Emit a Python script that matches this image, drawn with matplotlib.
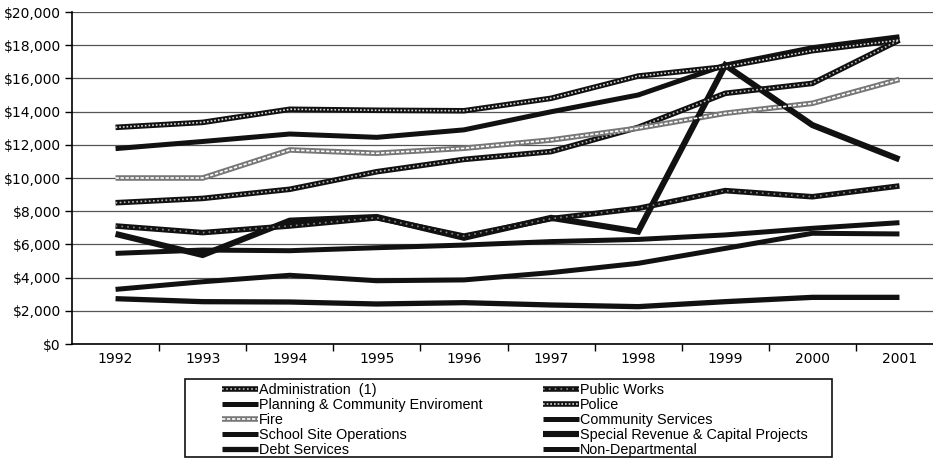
import matplotlib
matplotlib.use("Agg")
import matplotlib.pyplot as plt
import numpy as np
from matplotlib.ticker import FuncFormatter, MultipleLocator, FixedLocator
from matplotlib.legend_handler import HandlerTuple
from matplotlib.patches import Rectangle

plt.rcParams['font.family'] = ['Liberation Sans', 'DejaVu Sans']

years = ["1992", "1993", "1994", "1995", "1996", "1997", "1998", "1999", "2000", "2001"]

administration = [8510, 8770, 9320, 10380, 11120, 11590, 13050, 15100, 15700, 18310]
public_works = [7110, 6710, 7110, 7600, 6500, 7550, 8170, 9240, 8870, 9520]
planning = [11770, 12200, 12650, 12450, 12900, 13990, 15000, 16800, 17850, 18510]
police = [13050, 13350, 14140, 14080, 14050, 14800, 16140, 16700, 17670, 18310]
fire = [10000, 10000, 11690, 11490, 11790, 12290, 13000, 13900, 14500, 15940]
community_services = [5460, 5660, 5620, 5800, 5960, 6170, 6300, 6570, 6970, 7310]
school_site = [3290, 3750, 4140, 3810, 3860, 4300, 4860, 5760, 6670, 6630]
special_revenue = [6630, 5360, 7430, 7650, 6400, 7600, 6770, 16800, 13190, 11120]
debt_services = [2730, 2550, 2530, 2410, 2490, 2350, 2250, 2550, 2810, 2810]
non_departmental = [np.nan] * 10

labels = ["Administration  (1)", "Public Works",
          "Planning & Community Enviroment", "Police",
          "Fire", "Community Services",
          "School Site Operations", "Special Revenue & Capital Projects",
          "Debt Services", "Non-Departmental"]
series = [administration, public_works, planning, police, fire,
          community_services, school_site, special_revenue,
          debt_services, non_departmental]
# pattern: (outer colour, outer width, inner colour or None, inner dash)
styles = [
    ("#111111", 4.0, "#bbbbbb", (0, (1, 1.5))),
    ("#111111", 4.0, "#888888", (0, (1, 2.5))),
    ("#111111", 3.6, None, None),
    ("#111111", 4.0, "#dddddd", (0, (1, 1.2))),
    ("#777777", 4.0, "#ffffff", (0, (2, 1))),
    ("#111111", 3.6, None, None),
    ("#111111", 3.6, None, None),
    ("#111111", 4.4, None, None),
    ("#111111", 3.8, None, None),
    ("#111111", 3.6, None, None),
]

W, H = 933, 459
fig = plt.figure(figsize=(W / 100, H / 100), dpi=100)
ax = fig.add_axes([72 / W, 1 - 344 / H, (943 - 72) / W, (344 - 12) / H])

x = np.arange(len(years))
handles = []
for vals, (oc, ow, ic, idash), lab in zip(series, styles, labels):
    l1, = ax.plot(x, vals, color=oc, lw=ow, solid_capstyle='butt',
                  solid_joinstyle='miter', zorder=3)
    if ic is not None:
        l2, = ax.plot(x, vals, color=ic, lw=ow * 0.3, linestyle=idash,
                      zorder=4)
        handles.append((l1, l2))
    else:
        handles.append(l1)

ax.set_xlim(-0.5, 9.5)
ax.set_ylim(0, 20000)
ax.yaxis.set_major_locator(MultipleLocator(2000))
ax.yaxis.set_major_formatter(FuncFormatter(lambda v, p: "${:,.0f}".format(v)))
ax.set_xticks(x)
ax.set_xticklabels(years)
ax.xaxis.set_minor_locator(FixedLocator(np.arange(0.5, 9.5, 1.0)))
ax.tick_params(axis='x', which='major', length=0, pad=6)
ax.tick_params(axis='x', which='minor', length=5, width=1, direction='out')
ax.tick_params(axis='y', which='major', length=5, width=1, pad=3)
for t in ax.get_xticklabels() + ax.get_yticklabels():
    t.set_fontfamily(['DejaVu Sans'])
    t.set_fontsize(10)

ax.grid(axis='y', color='#555555', lw=0.9, zorder=1)
for s in ['top', 'right']:
    ax.spines[s].set_visible(False)
ax.spines['left'].set_linewidth(1.2)
ax.spines['bottom'].set_linewidth(1.2)

# legend filled row by row: reorder for matplotlib's column-major layout
order = [0, 2, 4, 6, 8, 1, 3, 5, 7, 9]
leg = fig.legend([handles[i] for i in order], [labels[i] for i in order],
                 ncol=2, loc='upper left',
                 bbox_to_anchor=(222 / W, 1 - 383 / H),
                 frameon=False, fontsize=10.4, handlelength=2.5,
                 handletextpad=0.07, labelspacing=0.07, columnspacing=4.15,
                 borderpad=0, borderaxespad=0,
                 handler_map={tuple: HandlerTuple(ndivide=1)})

# box drawn around the legend entries
fig.patches.append(Rectangle((185 / W, 1 - 457 / H), (832 - 185) / W,
                             (457 - 379) / H, transform=fig.transFigure,
                             fill=False, edgecolor='#111111', lw=1.2,
                             zorder=0))

fig.savefig("out.png", dpi=100)
